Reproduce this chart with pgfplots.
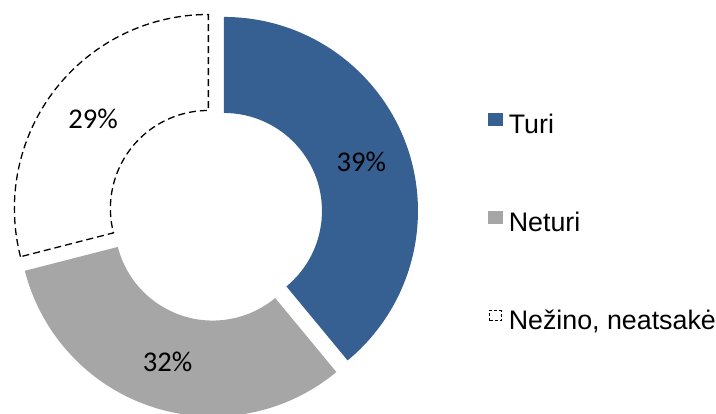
\documentclass[border=0pt]{standalone}
\usepackage{fontspec}
\setmainfont{Liberation Sans}
\newfontfamily\pctfont{Carlito}
\usepackage{pgfplots}
\usepackage{pgfplotstable}
\pgfplotsset{compat=1.18}
\definecolor{turiblue}{HTML}{366092}
\definecolor{neturigray}{HTML}{A6A6A6}

\pgfplotstableread{
label value
Turi 39
Neturi 32
Nezino 29
}\piedata
\pgfplotstablegetelem{0}{value}\of\piedata \let\vA\pgfplotsretval
\pgfplotstablegetelem{1}{value}\of\piedata \let\vB\pgfplotsretval
\pgfplotstablegetelem{2}{value}\of\piedata \let\vC\pgfplotsretval
% angles, clockwise from the top
\pgfmathsetmacro\aA{90}
\pgfmathsetmacro\aB{90-3.6*\vA}
\pgfmathsetmacro\aC{\aB-3.6*\vB}
\pgfmathsetmacro\aD{\aC-3.6*\vC}

% #1 style, #2 start angle, #3 end angle
\newcommand\donutslice[3]{%
  \path[#1] (axis cs:215.5,199) ++({(#2+#3)/2}:4.5pt) ++(#2:97pt)
    arc[start angle=#2, end angle=#3, radius=97pt]
    -- ++({#3+180}:48pt)
    arc[start angle=#3, end angle=#2, radius=49pt] -- cycle;}
\newcommand\donutlabel[4]{%
  \path (axis cs:215.5,199) ++({(#1+#2)/2}:77.5pt)
    node[font=\pctfont\fontsize{14.3}{17}\selectfont, inner sep=0pt] {#3\%};}

\begin{document}
\begin{tikzpicture}
\useasboundingbox (0,0) rectangle (358pt,206.5pt);
\begin{axis}[
  at={(0,0)}, anchor=south west,
  x=0.5pt, y=0.5pt,
  xmin=0, xmax=716, ymin=0, ymax=413,
  hide axis, clip=true,
  legend style={at={(axis cs:488,300)}, anchor=north west, draw=none, fill=none,
    inner sep=0pt, outer sep=0pt, row sep=36pt, column sep=3pt,
    font=\fontsize{13.4}{15}\selectfont,
    nodes={inner sep=0pt, text height=10pt, text depth=3pt}},
  legend cell align=left,
]
\addlegendimage{legend image code/.code={\fill[turiblue] (0pt,0.5pt) rectangle (7pt,6.5pt);}}
\addlegendentry{Turi}
\addlegendimage{legend image code/.code={\fill[neturigray] (0pt,0.5pt) rectangle (7pt,6.5pt);}}
\addlegendentry{Neturi}
\addlegendimage{legend image code/.code={\draw[black, line width=0.5pt, dash pattern=on 1.5pt off 1pt] (0.5pt,1pt) rectangle (6.5pt,6pt);}}
\addlegendentry{Nežino, neatsakė}

\donutslice{fill=turiblue}{\aA}{\aB}
\donutslice{fill=neturigray}{\aB}{\aC}
\donutslice{fill=white, draw=black, line width=0.65pt, dash pattern=on 3.5pt off 2pt}{\aC}{\aD}
\donutlabel{\aA}{\aB}{\vA}{}
\donutlabel{\aB}{\aC}{\vB}{}
\donutlabel{\aC}{\aD}{\vC}{}
\end{axis}
\end{tikzpicture}
\end{document}
